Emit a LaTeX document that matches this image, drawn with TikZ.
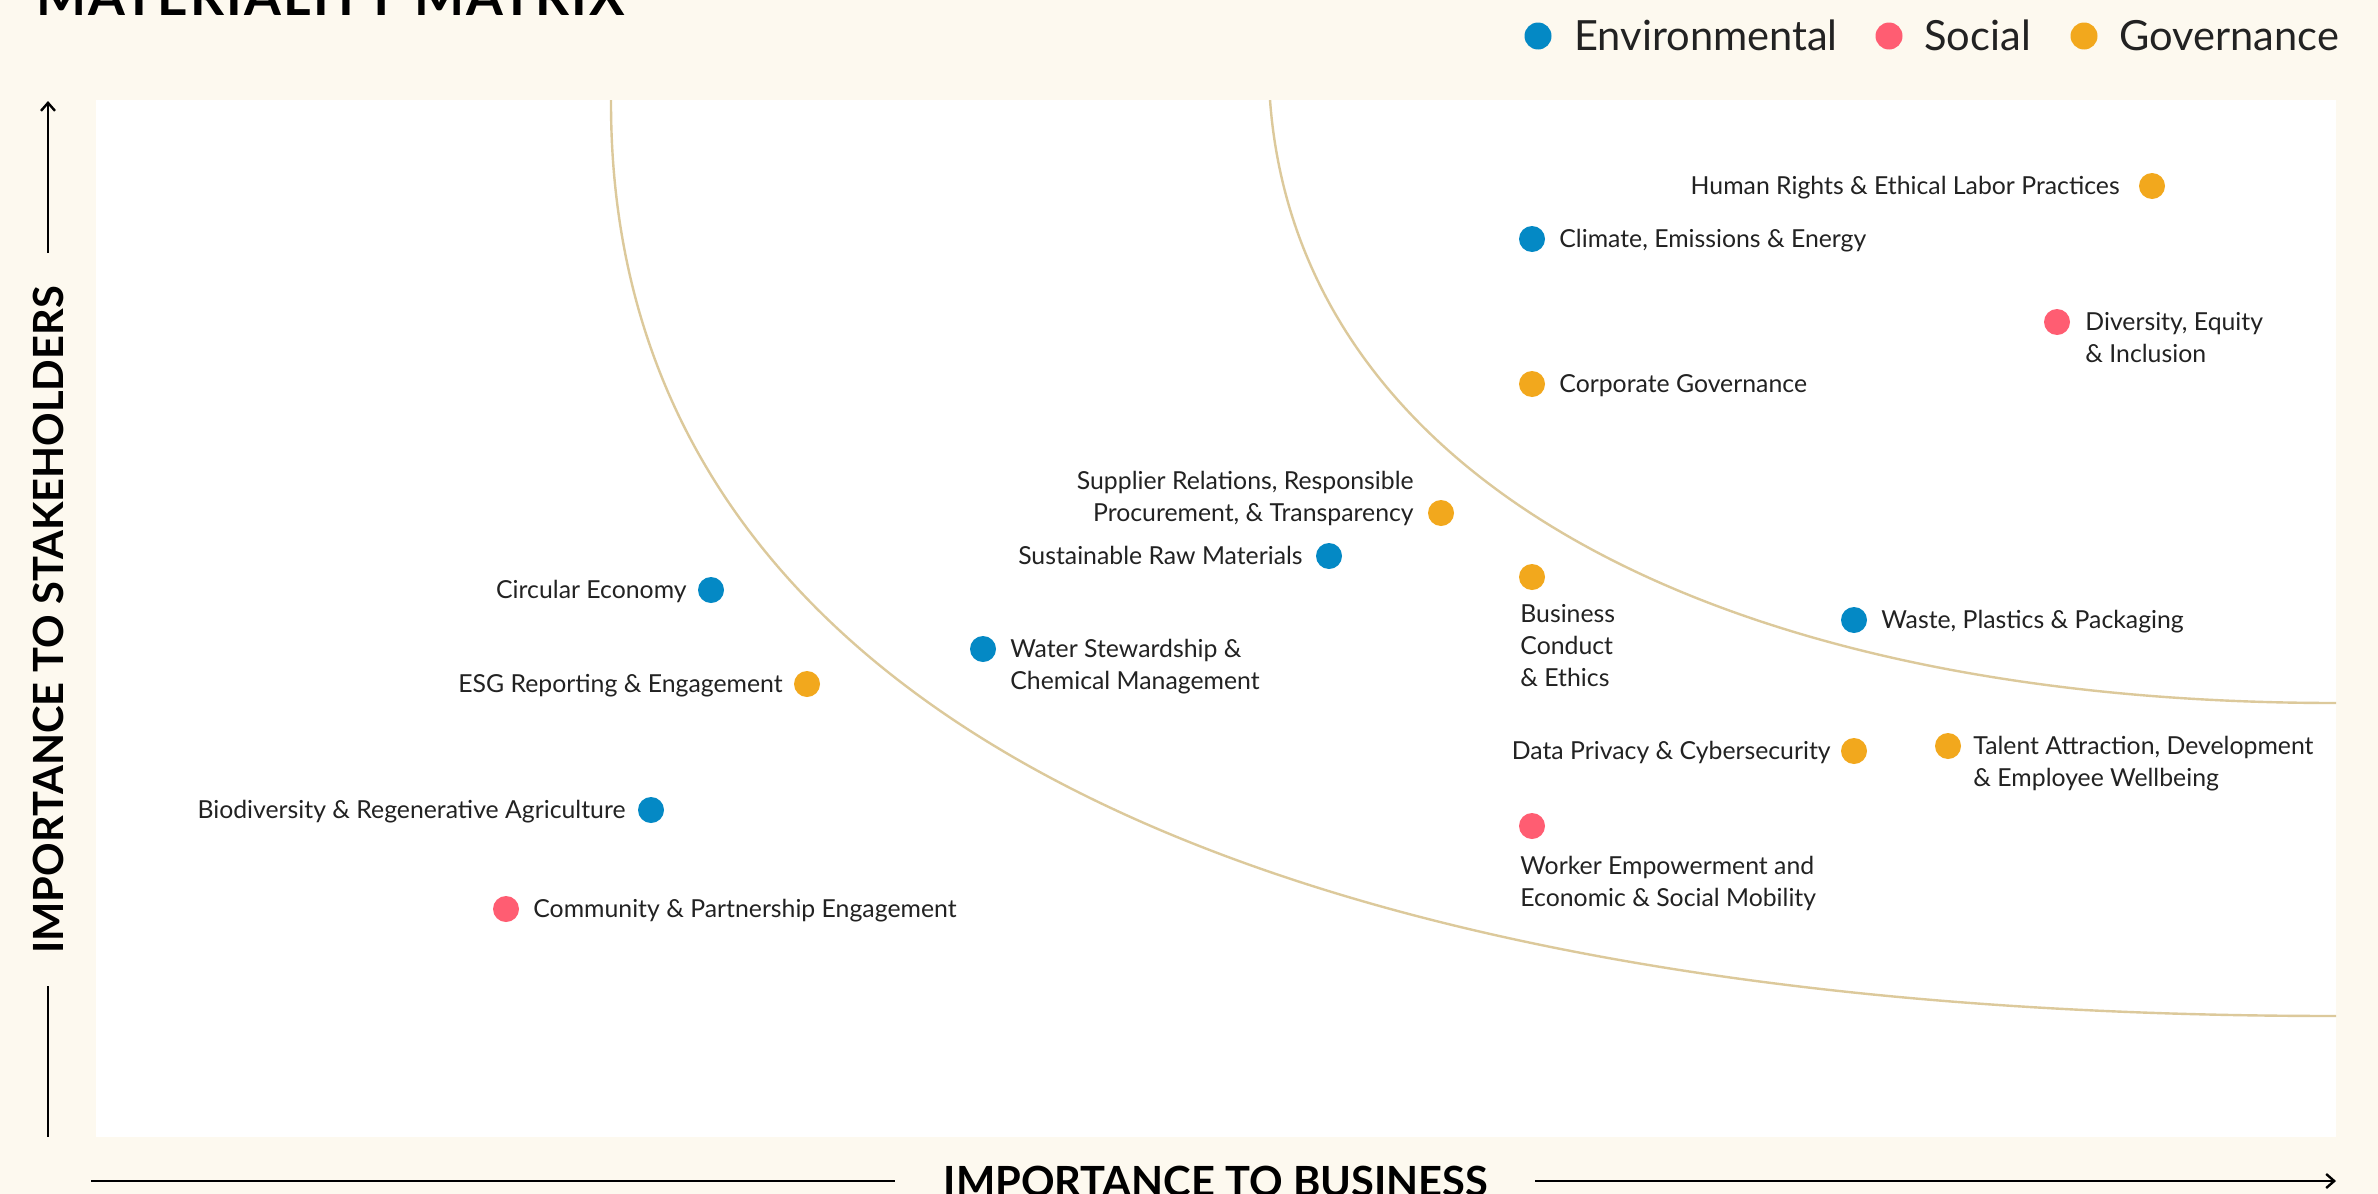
\documentclass[tikz,border=0pt]{standalone}
\usepackage{fontspec}
\setmainfont{Lato}
\usetikzlibrary{arrows.meta}
\definecolor{bgcream}{RGB}{253,249,239}
\definecolor{envblue}{RGB}{4,137,197}
\definecolor{socpink}{RGB}{255,93,114}
\definecolor{govorange}{RGB}{242,168,29}
\definecolor{curvetan}{RGB}{220,201,155}
\definecolor{txtdark}{RGB}{34,34,34}
\newcommand\mlinesT[1]{\begin{tabular}[t]{@{}l@{}}#1\end{tabular}}
\newcommand\mlinesB[1]{\begin{tabular}[b]{@{}r@{}}#1\end{tabular}}
\begin{document}
\begin{tikzpicture}[x=0.5pt,y=-0.5pt,
  dot/.style={circle,inner sep=0pt,minimum size=13pt},
  envdot/.style={dot,fill=envblue},
  socdot/.style={dot,fill=socpink},
  govdot/.style={dot,fill=govorange},
  lgdot/.style={circle,inner sep=0pt,minimum size=13.5pt},
  lbl/.style={inner sep=0pt,text=txtdark,font=\fontsize{12.4}{16}\selectfont},
  lgtxt/.style={inner sep=0pt,text=txtdark,font=\fontsize{20.8}{24}\selectfont},
  axistxt/.style={inner sep=0pt,text=black,font=\fontsize{20.8}{24}\selectfont\bfseries},
  axisline/.style={line width=1.2pt,black},
  zone/.style={line width=1.2pt,curvetan}
]
\useasboundingbox (0,0) rectangle (2378,1194);
\fill[bgcream] (0,0) rectangle (2378,1194);
\fill[white] (96,100) rectangle (2336,1137);

% title
\node[inner sep=0pt,anchor=base west,font=\fontsize{26.5}{30}\selectfont\bfseries\addfontfeature{LetterSpace=4}] (title) at (36,15) {MATERIALITY MATRIX};

% legend
\node[lgdot,fill=envblue] (lgE) at (1538,36) {};
\node[lgtxt,anchor=base west] (lgEt) at (1574,50) {Environmental};
\node[lgdot,fill=socpink] (lgS) at (1889,36) {};
\node[lgtxt,anchor=base west] (lgSt) at (1924,50) {Social};
\node[lgdot,fill=govorange] (lgG) at (2084,36) {};
\node[lgtxt,anchor=base west] (lgGt) at (2119,50) {Governance};

% zone curves
\begin{scope}
\clip (96,100) rectangle (2336,1137);
\draw[zone] (611,100) .. controls (609,750) and (1336,1016) .. (2336,1016);
\draw[zone] (1270,100) .. controls (1298,480) and (1718,703) .. (2336,703);
\end{scope}

% axes
\coordinate (vtop) at (48,101);
\coordinate (vtopend) at (48,253);
\coordinate (vbotstart) at (48,986);
\coordinate (vbot) at (48,1137);
\draw[axisline,-{Straight Barb[length=4pt,width=7pt]}] (vtopend) -- (vtop);
\draw[axisline] (vbotstart) -- (vbot);
\node[axistxt,anchor=base,rotate=90] (ylab) at (63,620) {IMPORTANCE TO STAKEHOLDERS};

\coordinate (hleft) at (91,1181);
\coordinate (hleftend) at (895,1181);
\coordinate (hrightstart) at (1535,1181);
\coordinate (hright) at (2336,1181);
\draw[axisline] (hleft) -- (hleftend);
\draw[axisline,-{Straight Barb[length=4pt,width=7pt]}] (hrightstart) -- (hright);
\node[axistxt,anchor=base] (xlab) at (1216,1196) {IMPORTANCE TO BUSINESS};

% points
\node[govdot] (hr) at (2152,186) {};
\node[lbl,anchor=base east] (hrt) at (2120,194.5) {Human Rights \& Ethical Labor Practices};

\node[envdot] (clim) at (1532,239) {};
\node[lbl,anchor=base west] (climt) at (1559,247.5) {Climate, Emissions \& Energy};

\node[socdot] (dei) at (2057,322) {};
\node[lbl,anchor=base west] (deit) at (2085,330.5) {\mlinesT{Diversity, Equity\\\& Inclusion}};

\node[govdot] (corp) at (1532,384) {};
\node[lbl,anchor=base west] (corpt) at (1559,392.5) {Corporate Governance};

\node[govdot] (supp) at (1441,513) {};
\node[lbl,anchor=base east] (suppt) at (1414,521.5) {\mlinesB{Supplier Relations, Responsible\\Procurement, \& Transparency}};

\node[envdot] (sust) at (1329,556) {};
\node[lbl,anchor=base east] (sustt) at (1303,564.5) {Sustainable Raw Materials};

\node[govdot] (bus) at (1532,577) {};
\node[lbl,anchor=base west] (bust) at (1520,622.5) {\mlinesT{Business\\Conduct\\\& Ethics}};

\node[envdot] (waste) at (1854,620) {};
\node[lbl,anchor=base west] (wastet) at (1881,628.5) {Waste, Plastics \& Packaging};

\node[envdot] (circ) at (711,590) {};
\node[lbl,anchor=base east] (circt) at (687,598.5) {Circular Economy};

\node[envdot] (water) at (983,649) {};
\node[lbl,anchor=base west] (watert) at (1010,657.5) {\mlinesT{Water Stewardship \&\\Chemical Management}};

\node[govdot] (esg) at (807,684) {};
\node[lbl,anchor=base east] (esgt) at (783,692.5) {ESG Reporting \& Engagement};

\node[govdot] (data) at (1854,751) {};
\node[lbl,anchor=base east] (datat) at (1831,759.5) {Data Privacy \& Cybersecurity};

\node[govdot] (talent) at (1948,746) {};
\node[lbl,anchor=base west] (talentt) at (1973,754.5) {\mlinesT{Talent Attraction, Development\\\& Employee Wellbeing}};

\node[envdot] (bio) at (651,810) {};
\node[lbl,anchor=base east] (biot) at (626,818.5) {Biodiversity \& Regenerative Agriculture};

\node[socdot] (worker) at (1532,826) {};
\node[lbl,anchor=base west] (workert) at (1520,874.5) {\mlinesT{Worker Empowerment and\\Economic \& Social Mobility}};

\node[socdot] (comm) at (506,909) {};
\node[lbl,anchor=base west] (commt) at (533,917.5) {Community \& Partnership Engagement};
\end{tikzpicture}
\end{document}
